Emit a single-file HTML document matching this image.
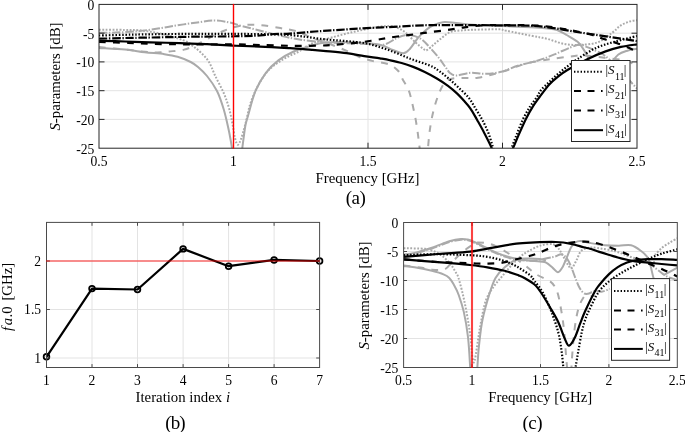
<!DOCTYPE html>
<html><head><meta charset="utf-8"><style>
html,body{margin:0;padding:0;background:#fff;overflow:hidden;}
svg{display:block;will-change:transform;}
text{font-family:"Liberation Serif",serif;fill:#000;}
</style></head><body>
<svg width="685" height="432" viewBox="0 0 685 432">
<rect width="685" height="432" fill="#fff"/>
<clipPath id="ca"><rect x="99.0" y="4.4" width="538.0" height="143.8"/></clipPath><line x1="233.5" y1="4.4" x2="233.5" y2="148.2" stroke="#e3e3e3" stroke-width="1"/><line x1="368.0" y1="4.4" x2="368.0" y2="148.2" stroke="#e3e3e3" stroke-width="1"/><line x1="502.5" y1="4.4" x2="502.5" y2="148.2" stroke="#e3e3e3" stroke-width="1"/><line x1="99.0" y1="33.2" x2="637.0" y2="33.2" stroke="#e3e3e3" stroke-width="1"/><line x1="99.0" y1="61.9" x2="637.0" y2="61.9" stroke="#e3e3e3" stroke-width="1"/><line x1="99.0" y1="90.7" x2="637.0" y2="90.7" stroke="#e3e3e3" stroke-width="1"/><line x1="99.0" y1="119.4" x2="637.0" y2="119.4" stroke="#e3e3e3" stroke-width="1"/><g clip-path="url(#ca)"><path d="M99.0 32.8 C101.8 32.8 109.5 32.8 116.0 32.5 C122.5 32.2 131.1 31.9 138.1 31.2 C145.1 30.5 151.3 29.5 157.9 28.5 C164.5 27.5 171.0 26.3 177.6 25.3 C184.2 24.3 191.2 23.2 197.3 22.4 C203.4 21.6 208.7 20.5 214.0 20.5 C219.3 20.5 224.5 21.4 229.2 22.4 C233.9 23.3 237.0 24.8 242.4 26.2 C247.8 27.6 255.1 29.4 261.4 31.0 C267.7 32.6 274.1 34.3 280.4 35.7 C286.7 37.1 292.0 38.4 299.4 39.5 C306.8 40.6 316.9 41.8 325.0 42.4 C333.1 43.0 340.8 42.9 348.0 43.2 C355.2 43.5 362.1 43.8 368.0 44.0 C373.9 44.2 378.9 45.7 383.7 44.7 C388.5 43.7 393.2 39.7 396.8 38.1 C400.4 36.5 402.4 35.6 405.0 35.2 C407.6 34.8 409.8 34.8 412.6 35.5 C415.4 36.2 419.0 37.5 421.8 39.5 C424.6 41.5 426.8 44.2 429.6 47.3 C432.4 50.4 436.2 54.6 438.8 57.9 C441.4 61.2 443.5 64.5 445.4 67.0 C447.3 69.5 448.2 71.6 450.0 73.0 C451.8 74.4 452.9 75.5 456.3 75.5 C459.8 75.5 465.9 73.1 470.7 72.8 C475.5 72.5 479.9 74.0 485.0 73.8 C490.1 73.6 495.9 73.1 501.3 71.8 C506.8 70.5 511.6 67.6 517.7 65.7 C523.8 63.8 532.0 62.4 538.1 60.5 C544.2 58.6 549.0 56.6 554.4 54.4 C559.8 52.2 566.5 48.9 570.8 47.3 C575.1 45.6 577.4 44.6 580.0 44.5 C582.6 44.4 583.9 45.9 586.5 46.9 C589.1 47.9 592.7 49.4 595.5 50.7 C598.3 52.0 601.0 53.2 603.1 54.5 C605.2 55.8 606.7 57.1 608.2 58.4 C609.7 59.6 610.0 60.1 612.0 62.0 C614.0 63.9 617.2 67.0 620.0 70.0 C622.8 73.0 626.2 76.9 629.0 80.0 C631.8 83.1 635.7 87.1 637.0 88.5" fill="none" stroke="#aaaaaa" stroke-width="2.00" stroke-dasharray="8.4 1.6 1.4 1.8" stroke-linecap="butt" stroke-linejoin="round"/><path d="M99.0 47.0 C103.3 47.4 117.3 48.8 125.0 49.6 C132.7 50.4 139.6 51.3 145.0 51.8 C150.4 52.3 153.3 52.4 157.3 52.4 C161.3 52.4 164.5 52.0 169.0 51.5 C173.5 51.0 179.6 50.7 184.1 49.6 C188.6 48.5 192.6 46.5 196.0 45.0 C199.4 43.5 199.9 42.8 204.5 40.5 C209.1 38.2 217.2 33.5 223.5 31.0 C229.8 28.5 236.1 26.2 242.4 25.3 C248.7 24.4 255.1 24.8 261.4 25.3 C267.7 25.8 274.7 27.2 280.4 28.1 C286.1 29.1 289.8 29.2 295.6 31.0 C301.4 32.8 309.0 36.7 315.0 39.0 C321.0 41.3 326.1 42.7 331.7 44.8 C337.2 46.9 343.6 49.4 348.3 51.5 C353.0 53.6 355.9 55.6 360.0 57.2 C364.1 58.8 368.3 59.9 373.1 61.1 C377.9 62.3 384.7 62.8 388.9 64.4 C393.1 66.1 395.9 68.4 398.3 71.0 C400.7 73.6 401.3 77.0 403.0 80.0 C404.7 83.0 406.9 85.8 408.3 89.3 C409.8 92.8 410.6 96.5 411.7 101.0 C412.8 105.5 414.0 111.0 415.0 116.0 C416.0 121.0 416.8 126.3 417.5 131.0 C418.2 135.7 418.6 139.8 419.2 144.3 C419.8 148.8 420.2 154.4 421.0 158.0 C421.8 161.6 423.0 166.0 424.0 166.0 C425.0 166.0 426.3 161.0 427.0 158.0 C427.7 155.0 427.6 152.5 428.0 148.0 C428.4 143.5 428.9 136.9 429.7 131.0 C430.5 125.1 431.6 118.5 433.0 112.7 C434.4 106.9 436.1 101.0 438.0 96.0 C439.9 91.0 442.2 85.6 444.7 82.7 C447.2 79.8 449.6 79.3 453.0 78.5 C456.4 77.7 460.8 78.1 465.0 78.0 C469.2 77.9 471.9 78.7 478.0 77.7 C484.1 76.7 493.3 74.3 501.3 72.0 C509.3 69.7 519.0 65.5 525.8 63.6 C532.6 61.7 537.4 61.4 542.2 60.5 C547.0 59.6 549.6 59.2 554.4 58.5 C559.2 57.8 566.5 57.0 570.8 56.5 C575.1 56.0 576.0 55.4 580.0 55.4 C584.0 55.4 590.0 56.0 595.0 56.5 C600.0 57.0 605.2 57.9 610.0 58.5 C614.8 59.1 620.5 59.3 624.0 60.0 C627.5 60.7 628.8 61.1 631.0 62.5 C633.2 63.9 636.0 67.5 637.0 68.5" fill="none" stroke="#aaaaaa" stroke-width="2.00" stroke-dasharray="6.8 7.2" stroke-linecap="butt" stroke-linejoin="round"/><path d="M99.0 47.9 C103.3 48.2 117.4 48.9 125.0 49.6 C132.6 50.3 138.1 51.4 144.7 52.2 C151.3 53.0 158.9 53.4 164.4 54.2 C169.9 55.0 173.2 55.5 177.6 56.8 C182.0 58.1 187.3 60.3 190.7 62.0 C194.1 63.7 195.3 64.7 198.0 67.0 C200.7 69.3 203.8 72.0 207.0 76.0 C210.2 80.0 214.2 85.5 217.0 91.0 C219.8 96.5 221.8 103.0 223.7 109.3 C225.6 115.6 227.3 123.5 228.5 129.0 C229.7 134.4 230.3 138.2 231.0 142.0 C231.7 145.8 232.0 148.7 232.5 152.0 C233.0 155.3 232.8 160.3 234.0 162.0 C235.2 163.7 238.8 163.7 240.0 162.0 C241.2 160.3 241.1 154.3 241.5 152.0 C241.9 149.7 241.7 152.4 242.3 148.1 C242.9 143.8 244.4 131.3 245.3 126.0 C246.2 120.7 246.2 122.1 247.9 116.3 C249.6 110.5 252.5 98.1 255.5 90.9 C258.5 83.7 261.9 78.2 265.7 73.1 C269.5 68.0 273.7 64.0 278.4 60.4 C283.1 56.8 288.6 53.8 293.7 51.5 C298.8 49.2 303.8 47.9 309.0 46.4 C314.2 44.9 317.2 43.2 325.0 42.5 C332.8 41.8 346.6 42.0 355.7 42.4 C364.8 42.8 373.5 43.4 379.7 44.7 C385.9 46.0 388.9 48.6 392.9 50.0 C396.8 51.4 400.5 53.5 403.4 53.3 C406.2 53.1 407.6 51.2 410.0 48.7 C412.4 46.2 415.2 41.2 417.8 38.1 C420.4 35.0 423.1 32.5 425.7 30.3 C428.3 28.1 430.7 26.6 433.6 25.2 C436.5 23.8 439.3 22.6 443.0 22.2 C446.7 21.8 451.0 22.6 456.0 23.0 C461.0 23.4 465.3 24.3 473.0 24.8 C480.7 25.3 492.3 25.6 502.0 26.0 C511.7 26.4 523.3 26.9 531.0 27.3 C538.7 27.7 543.7 28.1 548.0 28.5 C552.3 28.9 553.9 28.9 557.0 30.0 C560.1 31.1 563.3 33.0 566.7 35.0 C570.1 37.0 574.9 39.6 577.6 41.8 C580.3 44.0 581.2 46.1 582.7 48.2 C584.2 50.3 585.4 52.6 586.5 54.5 C587.6 56.4 588.2 57.7 589.1 59.6 C590.0 61.5 591.5 64.9 592.0 66.0" fill="none" stroke="#aaaaaa" stroke-width="2.00"  stroke-linecap="butt" stroke-linejoin="round"/><path d="M612.0 62.0 C613.1 60.8 615.9 56.4 618.4 54.5 C620.9 52.6 624.2 51.7 627.3 50.7 C630.4 49.8 635.4 49.1 637.0 48.8" fill="none" stroke="#aaaaaa" stroke-width="2.00"  stroke-linecap="butt" stroke-linejoin="round"/><path d="M99.0 29.8 C103.3 29.8 118.5 29.8 125.0 29.9 C131.5 30.0 133.7 29.9 138.0 30.2 C142.3 30.5 146.6 31.1 151.0 31.8 C155.4 32.5 160.0 33.4 164.4 34.5 C168.8 35.6 173.9 37.2 177.6 38.4 C181.3 39.6 184.2 40.4 186.8 41.7 C189.4 43.0 190.9 44.4 193.3 46.3 C195.7 48.2 198.6 50.3 201.2 52.9 C203.8 55.5 206.7 58.1 209.0 62.0 C211.3 65.8 212.9 70.8 215.3 76.0 C217.8 81.2 221.4 87.7 223.7 93.0 C226.0 98.3 227.5 102.8 229.0 108.0 C230.5 113.2 231.5 119.0 232.5 124.0 C233.5 129.0 234.1 134.5 235.0 138.0 C235.9 141.5 236.7 144.6 237.7 144.8 C238.7 145.0 239.7 142.5 241.0 139.0 C242.3 135.5 243.8 129.9 245.4 124.0 C247.0 118.1 248.3 110.0 250.4 103.6 C252.5 97.2 255.0 91.3 258.0 85.8 C261.0 80.3 264.1 75.0 268.3 70.5 C272.6 66.0 278.4 62.3 283.5 59.1 C288.6 55.9 294.1 54.1 298.8 51.5 C303.6 48.9 306.2 45.9 312.0 43.5 C317.8 41.1 326.5 38.9 333.8 36.9 C341.1 34.9 348.4 33.0 355.7 31.4 C363.0 29.8 371.8 27.9 377.6 27.0 C383.4 26.1 387.3 25.8 390.7 26.0 C394.1 26.2 395.4 26.9 398.0 28.0 C400.6 29.1 403.1 30.5 406.0 32.9 C408.9 35.2 412.3 39.5 415.2 42.1 C418.1 44.7 421.1 47.4 423.1 48.7 C425.1 50.0 425.2 50.7 427.0 50.0 C428.8 49.3 431.2 46.7 433.6 44.7 C436.0 42.7 438.8 40.2 441.5 38.1 C444.2 36.0 446.9 33.5 450.0 32.2 C453.1 30.9 456.2 30.9 460.0 30.5 C463.8 30.1 466.7 30.0 473.0 29.8 C479.3 29.6 492.4 29.2 498.0 29.3 C503.6 29.4 500.8 29.6 506.3 30.7 C511.8 31.8 524.1 34.3 531.0 35.7 C537.9 37.1 542.2 37.6 547.7 39.0 C553.2 40.4 558.8 43.0 564.3 44.0 C569.8 45.0 575.4 45.1 581.0 44.8 C586.6 44.5 592.5 44.3 597.7 42.3 C602.9 40.3 608.1 35.7 612.0 32.9 C615.9 30.1 617.9 27.2 620.9 25.3 C623.9 23.4 627.1 22.4 629.8 21.5 C632.5 20.6 635.8 20.4 637.0 20.2" fill="none" stroke="#aaaaaa" stroke-width="2.00" stroke-dasharray="1.8 1.6" stroke-linecap="butt" stroke-linejoin="round"/><path d="M99.0 42.0 C103.8 42.1 119.5 42.5 128.0 42.8 C136.5 43.1 141.3 43.5 150.0 43.8 C158.7 44.0 170.5 44.2 180.0 44.3 C189.5 44.4 197.5 44.5 207.0 44.5 C216.5 44.5 228.2 44.3 237.0 44.4 C245.8 44.5 251.2 44.8 260.0 45.0 C268.8 45.2 280.0 45.7 290.0 45.8 C300.0 45.9 312.7 45.8 320.0 45.6 C327.3 45.4 327.3 45.3 334.0 44.8 C340.7 44.3 353.2 43.2 360.0 42.4 C366.8 41.6 370.6 40.8 375.0 40.1 C379.4 39.4 382.2 38.8 386.3 38.1 C390.4 37.5 394.6 36.9 399.4 36.2 C404.2 35.6 410.2 34.9 415.2 34.2 C420.2 33.5 424.6 32.9 429.6 32.2 C434.6 31.6 440.9 30.9 445.4 30.3 C449.8 29.7 453.1 29.2 456.3 28.7 C459.5 28.2 460.5 27.8 464.7 27.3 C468.9 26.8 475.1 25.9 481.3 25.5 C487.5 25.1 493.7 25.2 502.0 25.2 C510.3 25.2 523.3 25.1 531.0 25.3 C538.7 25.5 542.5 25.9 548.0 26.5 C553.5 27.1 559.5 28.2 564.0 29.0 C568.5 29.8 570.4 30.0 575.0 31.0 C579.6 32.0 586.7 33.4 591.6 34.8 C596.5 36.2 599.9 37.8 604.4 39.3 C608.9 40.8 614.2 42.2 618.4 43.7 C622.6 45.2 626.7 46.9 629.8 48.2 C632.9 49.5 635.8 51.0 637.0 51.5" fill="none" stroke="#000" stroke-width="2.20" stroke-dasharray="6.8 7.2" stroke-linecap="butt" stroke-linejoin="round"/><path d="M99.0 38.7 C103.3 38.6 118.2 38.2 125.0 38.0 C131.8 37.8 132.5 37.9 140.0 37.7 C147.5 37.6 160.0 37.3 170.0 37.1 C180.0 36.9 189.5 36.7 200.0 36.6 C210.5 36.5 223.0 36.5 233.0 36.3 C243.0 36.1 253.2 35.9 260.0 35.5 C266.8 35.1 269.0 34.3 274.0 34.0 C279.0 33.7 283.2 34.0 290.0 33.6 C296.8 33.2 306.7 32.1 315.0 31.5 C323.3 30.9 331.4 30.4 340.0 29.8 C348.6 29.2 356.6 28.7 366.6 28.1 C376.6 27.6 390.6 27.0 400.0 26.5 C409.4 26.0 414.7 25.5 423.0 25.3 C431.3 25.1 440.5 25.1 450.0 25.1 C459.5 25.1 471.3 25.1 480.0 25.2 C488.7 25.2 493.5 25.3 502.0 25.4 C510.5 25.5 523.3 25.4 531.0 25.7 C538.7 26.0 542.5 26.6 548.0 27.3 C553.5 28.0 558.7 28.9 564.0 29.8 C569.3 30.7 574.8 31.7 580.0 32.5 C585.2 33.3 588.7 33.8 595.5 34.8 C602.3 35.8 614.0 37.5 620.9 38.6 C627.8 39.7 634.3 40.7 637.0 41.1" fill="none" stroke="#000" stroke-width="2.20" stroke-dasharray="8.4 1.6 1.4 1.8" stroke-linecap="butt" stroke-linejoin="round"/><path d="M99.0 40.8 C103.3 40.9 116.5 41.2 125.0 41.5 C133.5 41.8 140.8 42.0 150.0 42.3 C159.2 42.6 170.5 42.8 180.0 43.1 C189.5 43.4 198.2 43.8 207.0 44.2 C215.8 44.6 224.2 45.2 233.0 45.6 C241.8 46.0 250.5 46.2 260.0 46.6 C269.5 47.0 281.4 47.7 290.0 48.2 C298.6 48.7 306.3 49.4 311.9 49.8 C317.5 50.2 317.6 50.2 323.4 50.8 C329.2 51.4 339.9 52.3 346.7 53.2 C353.5 54.1 358.6 55.2 364.2 56.1 C369.8 57.0 375.7 57.7 380.0 58.4 C384.3 59.1 386.4 59.4 390.0 60.2 C393.6 61.0 397.7 61.9 401.6 63.0 C405.5 64.1 409.3 65.4 413.2 66.9 C417.1 68.4 420.9 70.1 424.8 72.0 C428.7 73.9 432.5 76.0 436.4 78.3 C440.3 80.6 444.5 83.4 448.0 85.9 C451.5 88.5 454.6 91.2 457.2 93.6 C459.8 96.0 461.4 97.9 463.5 100.3 C465.6 102.7 467.9 104.9 470.1 108.1 C472.4 111.3 474.7 115.7 477.0 119.7 C479.3 123.8 481.7 128.0 484.0 132.4 C486.3 136.8 489.2 142.4 490.9 146.2 C492.6 150.0 492.3 150.7 494.0 155.0 C495.7 159.3 498.5 172.0 501.0 172.0 C503.5 172.0 506.9 159.1 509.0 155.0 C511.1 150.9 511.6 151.0 513.3 147.6 C514.9 144.2 516.8 139.1 518.9 134.4 C521.0 129.7 523.5 123.8 525.8 119.2 C528.1 114.6 530.5 110.4 532.8 106.7 C535.1 103.0 537.0 100.6 539.7 96.9 C542.5 93.2 546.2 88.0 549.3 84.6 C552.4 81.2 555.4 78.8 558.5 76.3 C561.6 73.8 562.9 72.7 567.8 69.8 C572.7 66.9 581.5 62.1 587.8 59.0 C594.1 55.9 600.1 53.4 605.6 51.4 C611.1 49.4 615.7 48.1 620.9 46.9 C626.1 45.7 634.3 44.8 637.0 44.4" fill="none" stroke="#000" stroke-width="2.20"  stroke-linecap="butt" stroke-linejoin="round"/><path d="M99.0 35.5 C103.3 35.4 116.5 35.0 125.0 34.8 C133.5 34.6 136.3 34.5 150.0 34.3 C163.7 34.1 190.3 33.8 207.0 33.8 C223.7 33.8 236.2 33.8 250.0 34.0 C263.8 34.2 277.9 34.2 290.0 35.1 C302.1 36.0 313.6 38.1 322.8 39.1 C332.0 40.1 337.7 40.3 345.0 41.0 C352.3 41.7 359.4 42.0 366.6 43.5 C373.9 45.0 381.2 47.5 388.5 50.0 C395.8 52.5 403.5 56.2 410.4 58.8 C417.3 61.4 425.2 63.5 430.0 65.6 C434.8 67.6 436.2 68.9 439.3 71.1 C442.4 73.2 445.4 75.9 448.5 78.5 C451.6 81.1 454.5 83.7 457.8 86.9 C461.1 90.1 465.5 93.8 468.5 97.5 C471.5 101.2 473.5 105.3 475.9 109.2 C478.3 113.1 480.7 116.8 482.8 120.8 C484.9 124.8 487.0 129.3 488.6 133.5 C490.2 137.7 491.4 142.4 492.6 146.2 C493.8 149.9 494.4 152.0 496.0 156.0 C497.6 160.0 500.0 170.0 502.0 170.0 C504.0 170.0 506.4 159.8 508.0 156.0 C509.6 152.2 510.4 150.6 511.9 147.0 C513.4 143.4 514.9 139.0 516.8 134.4 C518.6 129.8 520.8 123.8 523.0 119.2 C525.2 114.6 527.7 110.4 530.0 106.7 C532.3 103.0 535.2 99.7 537.0 96.9 C538.8 94.2 538.9 92.7 540.9 90.2 C542.9 87.7 546.4 84.7 549.3 81.9 C552.2 79.1 555.4 76.1 558.5 73.5 C561.6 70.9 564.6 68.5 567.8 66.1 C571.0 63.7 573.0 62.0 577.6 59.0 C582.2 56.0 589.4 51.1 595.5 48.2 C601.6 45.3 607.6 43.8 614.5 41.8 C621.4 39.8 633.2 37.0 637.0 36.0" fill="none" stroke="#000" stroke-width="2.20" stroke-dasharray="1.5 1.8" stroke-linecap="butt" stroke-linejoin="round"/></g><g stroke="#262626" stroke-width="1"><line x1="233.5" y1="148.2" x2="233.5" y2="142.7"/><line x1="233.5" y1="4.4" x2="233.5" y2="9.9"/><line x1="368.0" y1="148.2" x2="368.0" y2="142.7"/><line x1="368.0" y1="4.4" x2="368.0" y2="9.9"/><line x1="502.5" y1="148.2" x2="502.5" y2="142.7"/><line x1="502.5" y1="4.4" x2="502.5" y2="9.9"/><line x1="99.0" y1="33.2" x2="104.5" y2="33.2"/><line x1="637.0" y1="33.2" x2="631.5" y2="33.2"/><line x1="99.0" y1="61.9" x2="104.5" y2="61.9"/><line x1="637.0" y1="61.9" x2="631.5" y2="61.9"/><line x1="99.0" y1="90.7" x2="104.5" y2="90.7"/><line x1="637.0" y1="90.7" x2="631.5" y2="90.7"/><line x1="99.0" y1="119.4" x2="104.5" y2="119.4"/><line x1="637.0" y1="119.4" x2="631.5" y2="119.4"/><rect x="99.0" y="4.4" width="538.0" height="143.8" fill="none"/></g><line x1="233.5" y1="3.9" x2="233.5" y2="148.7" stroke="#ff0000" stroke-width="1.4"/><g font-size="13.6"><text x="99.0" y="165.6" text-anchor="middle">0.5</text><text x="233.5" y="165.6" text-anchor="middle">1</text><text x="368.0" y="165.6" text-anchor="middle">1.5</text><text x="502.5" y="165.6" text-anchor="middle">2</text><text x="637.0" y="165.6" text-anchor="middle">2.5</text><text x="94.4" y="9.8" text-anchor="end">0</text><text x="94.4" y="38.6" text-anchor="end">-5</text><text x="94.4" y="67.3" text-anchor="end">-10</text><text x="94.4" y="96.1" text-anchor="end">-15</text><text x="94.4" y="124.8" text-anchor="end">-20</text><text x="94.4" y="153.6" text-anchor="end">-25</text></g><rect x="571.5" y="60.5" width="58.5" height="81.0" fill="#fff" stroke="#262626" stroke-width="1"/><line x1="574.0" y1="71.7" x2="603.0" y2="71.7" stroke="#000" stroke-width="2" stroke-dasharray="1.4 1.9"/><text x="605.5" y="74.0" font-size="13">|<tspan font-style="italic">S</tspan><tspan font-size="10" dy="5.6" dx="0.3">11</tspan><tspan dy="-5.6" dx="-0.7">|</tspan></text><line x1="574.0" y1="91.0" x2="603.0" y2="91.0" stroke="#000" stroke-width="2" stroke-dasharray="7 6.5 7 6.5 1.6 10"/><text x="605.5" y="93.3" font-size="13">|<tspan font-style="italic">S</tspan><tspan font-size="10" dy="5.6" dx="0.3">21</tspan><tspan dy="-5.6" dx="-0.7">|</tspan></text><line x1="574.0" y1="110.4" x2="603.0" y2="110.4" stroke="#000" stroke-width="2" stroke-dasharray="7 6.5 7 6.5 1.6 10"/><text x="605.5" y="112.7" font-size="13">|<tspan font-style="italic">S</tspan><tspan font-size="10" dy="5.6" dx="0.3">31</tspan><tspan dy="-5.6" dx="-0.7">|</tspan></text><line x1="574.0" y1="130.2" x2="603.0" y2="130.2" stroke="#000" stroke-width="2"/><text x="605.5" y="132.5" font-size="13">|<tspan font-style="italic">S</tspan><tspan font-size="10" dy="5.6" dx="0.3">41</tspan><tspan dy="-5.6" dx="-0.7">|</tspan></text>
<line x1="92.0" y1="222.4" x2="92.0" y2="367.5" stroke="#e3e3e3" stroke-width="1"/><line x1="137.5" y1="222.4" x2="137.5" y2="367.5" stroke="#e3e3e3" stroke-width="1"/><line x1="183.1" y1="222.4" x2="183.1" y2="367.5" stroke="#e3e3e3" stroke-width="1"/><line x1="228.6" y1="222.4" x2="228.6" y2="367.5" stroke="#e3e3e3" stroke-width="1"/><line x1="274.1" y1="222.4" x2="274.1" y2="367.5" stroke="#e3e3e3" stroke-width="1"/><line x1="46.5" y1="358.0" x2="319.6" y2="358.0" stroke="#e3e3e3" stroke-width="1"/><line x1="46.5" y1="309.5" x2="319.6" y2="309.5" stroke="#e3e3e3" stroke-width="1"/><line x1="46.5" y1="261.0" x2="319.6" y2="261.0" stroke="#e3e3e3" stroke-width="1"/><polyline points="46.5,356.8 92.0,288.6 137.5,289.5 183.1,248.9 228.6,266.2 274.1,259.9 319.6,261.0" fill="none" stroke="#000" stroke-width="2.2" stroke-linejoin="round"/><circle cx="46.5" cy="356.8" r="2.85" fill="none" stroke="#000" stroke-width="1.75"/><circle cx="92.0" cy="288.6" r="2.85" fill="none" stroke="#000" stroke-width="1.75"/><circle cx="137.5" cy="289.5" r="2.85" fill="none" stroke="#000" stroke-width="1.75"/><circle cx="183.1" cy="248.9" r="2.85" fill="none" stroke="#000" stroke-width="1.75"/><circle cx="228.6" cy="266.2" r="2.85" fill="none" stroke="#000" stroke-width="1.75"/><circle cx="274.1" cy="259.9" r="2.85" fill="none" stroke="#000" stroke-width="1.75"/><circle cx="319.6" cy="261.0" r="2.85" fill="none" stroke="#000" stroke-width="1.75"/><g stroke="#4a4a4a" stroke-width="1"><line x1="92.0" y1="367.5" x2="92.0" y2="364.1"/><line x1="92.0" y1="222.4" x2="92.0" y2="225.8"/><line x1="137.5" y1="367.5" x2="137.5" y2="364.1"/><line x1="137.5" y1="222.4" x2="137.5" y2="225.8"/><line x1="183.1" y1="367.5" x2="183.1" y2="364.1"/><line x1="183.1" y1="222.4" x2="183.1" y2="225.8"/><line x1="228.6" y1="367.5" x2="228.6" y2="364.1"/><line x1="228.6" y1="222.4" x2="228.6" y2="225.8"/><line x1="274.1" y1="367.5" x2="274.1" y2="364.1"/><line x1="274.1" y1="222.4" x2="274.1" y2="225.8"/><line x1="46.5" y1="358.0" x2="49.9" y2="358.0"/><line x1="319.6" y1="358.0" x2="316.2" y2="358.0"/><line x1="46.5" y1="309.5" x2="49.9" y2="309.5"/><line x1="319.6" y1="309.5" x2="316.2" y2="309.5"/><line x1="46.5" y1="261.0" x2="49.9" y2="261.0"/><line x1="319.6" y1="261.0" x2="316.2" y2="261.0"/><rect x="46.5" y="222.4" width="273.1" height="145.1" fill="none"/></g><line x1="46.0" y1="261.0" x2="320.1" y2="261.0" stroke="#ff0000" stroke-opacity="0.42" stroke-width="2"/><g font-size="13.6"><text x="46.5" y="384.7" text-anchor="middle">1</text><text x="92.0" y="384.7" text-anchor="middle">2</text><text x="137.5" y="384.7" text-anchor="middle">3</text><text x="183.1" y="384.7" text-anchor="middle">4</text><text x="228.6" y="384.7" text-anchor="middle">5</text><text x="274.1" y="384.7" text-anchor="middle">6</text><text x="319.6" y="384.7" text-anchor="middle">7</text><text x="41.1" y="362.8" text-anchor="end">1</text><text x="41.1" y="314.3" text-anchor="end">1.5</text><text x="41.1" y="265.8" text-anchor="end">2</text></g>
<clipPath id="cc"><rect x="403.6" y="222.5" width="273.7" height="145.0"/></clipPath><line x1="472.0" y1="222.5" x2="472.0" y2="367.5" stroke="#e3e3e3" stroke-width="1"/><line x1="540.5" y1="222.5" x2="540.5" y2="367.5" stroke="#e3e3e3" stroke-width="1"/><line x1="608.9" y1="222.5" x2="608.9" y2="367.5" stroke="#e3e3e3" stroke-width="1"/><line x1="403.6" y1="251.5" x2="677.3" y2="251.5" stroke="#e3e3e3" stroke-width="1"/><line x1="403.6" y1="280.5" x2="677.3" y2="280.5" stroke="#e3e3e3" stroke-width="1"/><line x1="403.6" y1="309.5" x2="677.3" y2="309.5" stroke="#e3e3e3" stroke-width="1"/><line x1="403.6" y1="338.5" x2="677.3" y2="338.5" stroke="#e3e3e3" stroke-width="1"/><g clip-path="url(#cc)"><path d="M403.6 255.4 C405.4 255.1 409.9 254.8 414.6 253.7 C419.3 252.5 426.1 250.4 431.9 248.5 C437.7 246.6 444.5 243.5 449.3 242.0 C454.1 240.5 457.8 240.0 460.9 239.7 C464.0 239.4 465.8 239.8 467.8 240.2 C469.8 240.6 470.7 241.0 473.0 242.0 C475.3 243.0 478.2 244.5 481.6 246.2 C485.0 247.8 489.2 250.2 493.1 251.9 C497.0 253.6 500.8 255.3 504.7 256.6 C508.6 257.9 512.4 258.8 516.3 259.5 C520.2 260.2 524.8 260.4 527.9 260.6 C531.0 260.8 531.6 260.9 535.0 260.5 C538.4 260.1 544.5 258.7 548.0 258.0 C551.5 257.3 553.6 256.9 555.8 256.3 C558.0 255.7 559.5 253.9 561.4 254.2 C563.2 254.5 565.3 256.2 566.9 258.3 C568.5 260.4 569.7 263.4 571.1 266.7 C572.5 269.9 573.9 274.3 575.3 277.8 C576.7 281.3 578.0 285.0 579.4 287.5 C580.8 290.0 582.2 291.9 583.6 293.0 C585.0 294.1 585.9 294.1 587.8 293.8 C589.6 293.5 592.4 291.4 594.7 291.0 C597.0 290.6 599.2 292.1 601.7 291.7 C604.2 291.3 608.6 289.4 610.0 288.9" fill="none" stroke="#aaaaaa" stroke-width="2.00" stroke-dasharray="8.4 1.6 1.4 1.8" stroke-linecap="butt" stroke-linejoin="round"/><path d="M647.8 262.0 C648.9 262.9 652.4 265.7 654.7 267.5 C657.0 269.3 659.5 271.4 661.7 273.0 C663.9 274.6 665.4 275.8 668.0 277.0 C670.6 278.2 675.8 279.5 677.3 280.0" fill="none" stroke="#aaaaaa" stroke-width="2.00" stroke-dasharray="8.4 1.6 1.4 1.8" stroke-linecap="butt" stroke-linejoin="round"/><path d="M403.6 265.5 C406.3 265.8 415.3 266.8 420.0 267.5 C424.7 268.2 428.7 269.3 432.0 269.7 C435.3 270.1 437.7 270.2 440.0 270.0 C442.3 269.8 444.1 269.7 446.0 268.5 C447.9 267.3 449.5 264.8 451.6 262.7 C453.7 260.6 456.0 258.1 458.5 255.8 C461.0 253.5 464.2 250.7 466.6 248.8 C469.0 246.9 471.3 245.6 473.0 244.5 C474.7 243.4 474.0 242.6 477.0 242.5 C480.0 242.4 486.2 242.8 490.8 244.2 C495.4 245.6 500.7 248.8 504.7 251.1 C508.7 253.4 511.4 255.5 515.0 258.0 C518.5 260.5 522.5 263.3 526.0 266.0 C529.5 268.7 532.2 271.8 536.2 274.3 C540.2 276.8 546.6 279.0 549.7 281.1 C552.8 283.2 553.6 284.7 555.0 287.0 C556.4 289.3 557.1 290.9 558.2 295.0 C559.3 299.1 560.5 306.1 561.5 311.9 C562.5 317.7 563.1 321.6 564.0 330.0 C564.9 338.4 565.8 353.3 566.6 362.5 C567.4 371.7 568.3 381.2 569.0 385.0 C569.7 388.8 570.5 388.8 571.0 385.0 C571.5 381.2 571.1 371.7 571.7 362.5 C572.3 353.3 573.4 339.0 574.5 330.0 C575.6 321.0 576.9 313.9 578.4 308.5 C579.9 303.1 582.2 299.5 583.5 297.5 C584.8 295.5 584.5 296.8 586.4 296.5 C588.3 296.2 593.6 296.1 595.0 296.0" fill="none" stroke="#aaaaaa" stroke-width="2.00" stroke-dasharray="6.8 7.2" stroke-linecap="butt" stroke-linejoin="round"/><path d="M403.6 254.6 C405.4 254.3 409.9 254.1 414.6 252.9 C419.3 251.8 426.1 249.6 431.9 247.7 C437.7 245.8 444.5 242.8 449.3 241.3 C454.1 239.9 457.8 239.3 460.9 239.0 C464.0 238.7 465.8 239.2 467.8 239.6 C469.8 240.0 470.7 240.3 473.0 241.3 C475.3 242.3 478.2 243.8 481.6 245.4 C485.0 247.0 489.2 249.4 493.1 251.1 C497.0 252.8 500.8 254.5 504.7 255.8 C508.6 257.1 512.4 257.9 516.3 258.7 C520.2 259.5 523.9 259.9 527.9 260.4 C531.9 260.9 537.0 261.2 540.0 261.6 C543.0 262.0 543.9 261.5 546.1 262.6 C548.3 263.7 551.0 266.5 553.0 268.1 C555.0 269.7 556.3 272.5 557.9 272.3 C559.5 272.1 561.3 269.2 562.8 266.7 C564.3 264.1 565.6 260.2 567.0 257.0 C568.4 253.8 569.7 249.7 571.1 247.3 C572.5 244.9 573.7 243.5 575.3 242.4 C576.9 241.3 578.2 240.9 580.8 241.0 C583.3 241.1 586.6 242.4 590.6 243.1 C594.6 243.8 600.3 244.8 605.0 245.2 C609.7 245.6 614.4 245.7 618.8 245.7 C623.1 245.7 627.4 244.5 631.1 245.3 C634.8 246.2 638.0 248.7 640.8 250.8 C643.6 252.9 646.2 255.2 647.8 257.8 C649.4 260.4 649.7 262.9 650.6 266.1 C651.5 269.3 652.4 274.2 653.3 277.2 C654.2 280.2 655.5 282.9 656.0 284.0" fill="none" stroke="#aaaaaa" stroke-width="2.00"  stroke-linecap="butt" stroke-linejoin="round"/><path d="M403.6 266.2 C405.4 266.4 409.9 266.5 414.6 267.3 C419.3 268.1 427.1 269.6 431.9 270.8 C436.7 272.0 440.6 273.1 443.5 274.3 C446.4 275.5 447.6 276.2 449.3 278.0 C451.1 279.8 452.4 282.2 454.0 285.0 C455.6 287.8 457.1 290.5 458.7 295.0 C460.3 299.5 462.2 304.9 463.8 311.9 C465.4 318.9 466.9 327.8 468.0 337.2 C469.1 346.6 469.7 360.0 470.2 368.0 C470.7 376.0 470.0 382.2 471.0 385.0 C472.0 387.8 474.9 387.8 476.0 385.0 C477.1 382.2 476.8 374.6 477.3 368.0 C477.8 361.4 478.1 353.6 479.0 345.6 C479.9 337.7 480.7 328.7 482.4 320.3 C484.1 311.9 486.9 302.1 489.1 295.0 C491.3 287.9 492.9 282.6 495.5 278.0 C498.1 273.4 501.2 270.3 504.7 267.3 C508.2 264.3 512.4 261.3 516.3 259.8 C520.2 258.3 523.9 258.6 527.9 258.5 C531.9 258.4 537.0 258.7 540.0 259.0 C543.0 259.3 545.0 260.2 546.0 260.5" fill="none" stroke="#aaaaaa" stroke-width="2.00"  stroke-linecap="butt" stroke-linejoin="round"/><path d="M664.0 275.0 C665.0 274.4 667.8 272.9 670.0 271.7 C672.2 270.4 676.1 268.2 677.3 267.5" fill="none" stroke="#aaaaaa" stroke-width="2.00"  stroke-linecap="butt" stroke-linejoin="round"/><path d="M403.6 248.2 C407.2 248.3 420.3 248.4 425.0 248.8 C429.7 249.2 429.8 249.9 431.9 250.6 C434.0 251.3 435.8 251.9 437.7 252.9 C439.6 253.9 441.6 255.3 443.5 256.9 C445.4 258.5 447.8 261.0 449.3 262.7 C450.9 264.4 451.7 265.6 452.8 267.3 C453.9 269.0 455.2 271.3 456.2 273.1 C457.1 274.9 457.4 274.4 458.5 278.0 C459.6 281.6 461.7 289.3 463.0 295.0 C464.3 300.7 465.2 305.0 466.5 312.0 C467.8 319.0 469.6 329.9 470.5 337.2 C471.4 344.5 471.6 351.8 472.2 356.0 C472.8 360.2 473.3 362.5 473.9 362.5 C474.5 362.5 474.9 359.8 475.6 356.0 C476.3 352.2 477.1 345.7 478.0 340.0 C478.9 334.3 479.7 328.7 481.0 322.0 C482.3 315.3 483.8 306.0 486.0 300.0 C488.2 294.0 491.3 290.2 494.0 286.2 C496.7 282.2 499.6 279.4 502.4 276.0 C505.2 272.6 508.1 269.0 510.9 265.9 C513.7 262.8 516.5 259.9 519.3 257.5 C522.1 255.1 524.3 253.5 527.8 251.5 C531.3 249.5 536.2 246.8 540.4 245.6 C544.6 244.4 550.0 243.7 553.0 244.2 C556.0 244.7 557.0 246.8 558.6 248.7 C560.2 250.6 561.2 252.8 562.8 255.6 C564.4 258.4 566.8 263.2 568.3 265.3 C569.8 267.4 570.4 269.0 571.8 268.1 C573.2 267.2 575.2 262.6 576.7 259.8 C578.2 257.0 578.9 253.4 580.8 251.4 C582.6 249.4 585.0 248.6 587.8 248.0 C590.6 247.4 592.9 247.4 597.5 248.0 C602.1 248.6 610.3 250.0 615.6 251.4 C620.9 252.8 624.0 254.7 629.4 256.5 C634.8 258.3 643.5 261.1 647.8 262.0 C652.1 262.9 653.8 262.0 655.0 262.0" fill="none" stroke="#aaaaaa" stroke-width="2.00" stroke-dasharray="1.8 1.6" stroke-linecap="butt" stroke-linejoin="round"/><path d="M655.0 255.0 C656.1 253.8 659.2 250.1 661.7 248.0 C664.2 245.9 667.4 244.1 670.0 242.5 C672.6 240.9 676.1 239.0 677.3 238.3" fill="none" stroke="#aaaaaa" stroke-width="2.00" stroke-dasharray="1.8 1.6" stroke-linecap="butt" stroke-linejoin="round"/><path d="M403.6 259.4 C409.3 259.8 428.5 261.4 437.7 262.0 C446.9 262.6 452.6 262.6 459.0 262.9 C465.4 263.1 471.3 263.4 476.0 263.5 C480.7 263.6 483.0 263.7 487.4 263.6 C491.8 263.5 497.8 263.4 502.4 262.7 C507.0 262.0 510.4 260.6 515.0 259.5 C519.6 258.4 525.9 257.0 530.2 255.8 C534.5 254.6 536.3 253.8 540.6 252.1 C544.9 250.4 550.7 247.5 555.8 245.9 C560.9 244.3 566.2 243.2 571.1 242.5 C576.0 241.8 580.5 241.4 585.0 241.6 C589.5 241.8 592.4 242.0 598.0 243.5 C603.6 245.0 612.8 248.5 618.8 250.8 C624.8 253.1 629.1 255.0 633.9 257.1 C638.7 259.2 643.2 261.3 647.8 263.3 C652.4 265.3 656.8 266.7 661.7 268.9 C666.6 271.1 674.7 275.2 677.3 276.5" fill="none" stroke="#000" stroke-width="2.20" stroke-dasharray="6.8 7.2" stroke-linecap="butt" stroke-linejoin="round"/><path d="M403.6 256.9 C409.3 256.4 426.6 254.9 437.7 254.0 C448.8 253.1 460.8 252.8 470.0 251.7 C479.2 250.6 485.4 249.0 493.1 247.7 C500.8 246.3 509.3 244.5 516.3 243.6 C523.3 242.7 528.4 242.7 535.0 242.4 C541.6 242.1 549.8 241.8 555.8 242.0 C561.8 242.2 566.5 242.9 571.1 243.8 C575.7 244.7 580.5 246.5 583.6 247.3 C586.8 248.1 587.4 247.9 590.0 248.7 C592.6 249.5 596.2 250.9 599.3 251.9 C602.4 252.9 605.4 253.8 608.5 254.7 C611.6 255.6 614.7 256.6 617.8 257.5 C620.9 258.4 624.3 259.2 627.0 259.8 C629.7 260.4 630.4 260.6 633.9 261.1 C637.4 261.6 643.2 262.1 647.8 262.6 C652.4 263.1 656.8 263.5 661.7 264.0 C666.6 264.5 674.7 265.2 677.3 265.4" fill="none" stroke="#000" stroke-width="2.20"  stroke-linecap="butt" stroke-linejoin="round"/><path d="M403.6 259.4 C409.3 259.8 426.6 261.2 437.7 262.1 C448.8 263.0 461.7 264.1 470.0 265.0 C478.3 265.9 481.6 266.3 487.4 267.3 C493.2 268.3 499.5 269.5 504.7 270.8 C509.9 272.1 515.3 274.2 518.6 275.4 C521.9 276.6 521.8 276.5 524.4 278.0 C527.0 279.5 531.7 282.0 534.5 284.5 C537.3 287.0 538.8 289.3 541.3 293.0 C543.8 296.7 546.9 302.0 549.7 306.8 C552.5 311.6 555.7 316.6 558.2 322.0 C560.7 327.4 563.1 335.0 564.9 338.9 C566.7 342.8 567.4 345.9 569.1 345.6 C570.8 345.3 573.2 340.9 575.0 337.2 C576.8 333.5 578.4 328.0 580.1 323.7 C581.8 319.4 582.6 316.8 585.0 311.5 C587.4 306.2 592.3 296.1 594.7 291.7 C597.1 287.3 597.0 287.9 599.3 285.0 C601.6 282.1 605.4 277.6 608.5 274.6 C611.6 271.6 614.7 269.2 617.8 267.2 C620.9 265.2 624.3 263.7 627.0 262.6 C629.7 261.5 630.4 261.2 633.9 260.6 C637.4 260.0 643.2 259.4 647.8 259.2 C652.4 259.0 656.8 259.1 661.7 259.2 C666.6 259.3 674.7 259.8 677.3 259.9" fill="none" stroke="#000" stroke-width="2.20"  stroke-linecap="butt" stroke-linejoin="round"/><path d="M403.6 255.2 C409.3 255.0 426.6 254.2 437.7 254.2 C448.8 254.2 461.7 254.8 470.0 255.2 C478.3 255.6 482.0 256.0 487.4 256.9 C492.8 257.8 498.0 259.0 502.4 260.4 C506.8 261.8 510.7 263.4 514.0 265.0 C517.3 266.6 519.3 268.0 522.0 269.7 C524.7 271.4 528.1 273.5 530.2 275.4 C532.3 277.3 532.4 278.1 534.5 281.0 C536.6 283.9 540.2 287.8 543.0 292.9 C545.8 298.0 548.9 305.4 551.4 311.9 C553.9 318.4 556.5 325.6 558.2 332.1 C559.9 338.6 560.7 345.1 561.5 350.7 C562.3 356.3 562.8 362.3 563.2 365.9 C563.6 369.4 563.0 370.0 564.0 372.0 C565.0 374.0 567.7 378.0 569.5 378.0 C571.3 378.0 574.0 374.0 575.0 372.0 C576.0 370.0 575.2 369.4 575.8 365.9 C576.4 362.3 577.4 356.3 578.4 350.7 C579.4 345.1 580.7 337.2 581.8 332.1 C582.9 327.0 583.8 324.0 585.0 320.3 C586.2 316.6 586.9 314.8 589.2 310.0 C591.5 305.2 595.4 296.6 598.9 291.7 C602.4 286.8 606.1 283.9 610.0 280.6 C613.9 277.4 618.5 274.6 622.5 272.2 C626.5 269.8 629.7 268.3 633.9 266.1 C638.1 263.9 643.2 261.3 647.8 259.2 C652.4 257.1 656.8 255.2 661.7 253.6 C666.6 252.0 674.7 250.1 677.3 249.4" fill="none" stroke="#000" stroke-width="2.20" stroke-dasharray="1.5 1.8" stroke-linecap="butt" stroke-linejoin="round"/></g><g stroke="#4a4a4a" stroke-width="1"><line x1="472.0" y1="367.5" x2="472.0" y2="364.1"/><line x1="472.0" y1="222.5" x2="472.0" y2="225.9"/><line x1="540.5" y1="367.5" x2="540.5" y2="364.1"/><line x1="540.5" y1="222.5" x2="540.5" y2="225.9"/><line x1="608.9" y1="367.5" x2="608.9" y2="364.1"/><line x1="608.9" y1="222.5" x2="608.9" y2="225.9"/><line x1="403.6" y1="251.5" x2="407.0" y2="251.5"/><line x1="677.3" y1="251.5" x2="673.9" y2="251.5"/><line x1="403.6" y1="280.5" x2="407.0" y2="280.5"/><line x1="677.3" y1="280.5" x2="673.9" y2="280.5"/><line x1="403.6" y1="309.5" x2="407.0" y2="309.5"/><line x1="677.3" y1="309.5" x2="673.9" y2="309.5"/><line x1="403.6" y1="338.5" x2="407.0" y2="338.5"/><line x1="677.3" y1="338.5" x2="673.9" y2="338.5"/><rect x="403.6" y="222.5" width="273.7" height="145.0" fill="none"/></g><line x1="472.0" y1="222.0" x2="472.0" y2="368.0" stroke="#ff0000" stroke-opacity="0.72" stroke-width="2.1"/><g font-size="13.6"><text x="403.6" y="384.9" text-anchor="middle">0.5</text><text x="472.0" y="384.9" text-anchor="middle">1</text><text x="540.5" y="384.9" text-anchor="middle">1.5</text><text x="608.9" y="384.9" text-anchor="middle">2</text><text x="677.3" y="384.9" text-anchor="middle">2.5</text><text x="398.4" y="227.5" text-anchor="end">0</text><text x="398.4" y="256.5" text-anchor="end">-5</text><text x="398.4" y="285.5" text-anchor="end">-10</text><text x="398.4" y="314.5" text-anchor="end">-15</text><text x="398.4" y="343.5" text-anchor="end">-20</text><text x="398.4" y="372.5" text-anchor="end">-25</text></g><rect x="611.5" y="278.6" width="58.1" height="81.7" fill="#fff" stroke="#262626" stroke-width="1"/><line x1="614.0" y1="290.9" x2="642.8" y2="290.9" stroke="#000" stroke-width="2" stroke-dasharray="1.4 1.9"/><text x="645.1" y="293.2" font-size="13">|<tspan font-style="italic">S</tspan><tspan font-size="10" dy="4.5" dx="0.3">11</tspan><tspan dy="-4.5" dx="-0.4">|</tspan></text><line x1="614.0" y1="310.4" x2="642.8" y2="310.4" stroke="#000" stroke-width="2" stroke-dasharray="7 6.5 7 6.5 1.6 10"/><text x="645.1" y="312.7" font-size="13">|<tspan font-style="italic">S</tspan><tspan font-size="10" dy="4.5" dx="0.3">21</tspan><tspan dy="-4.5" dx="-0.4">|</tspan></text><line x1="614.0" y1="329.6" x2="642.8" y2="329.6" stroke="#000" stroke-width="2" stroke-dasharray="7 6.5 7 6.5 1.6 10"/><text x="645.1" y="331.9" font-size="13">|<tspan font-style="italic">S</tspan><tspan font-size="10" dy="4.5" dx="0.3">31</tspan><tspan dy="-4.5" dx="-0.4">|</tspan></text><line x1="614.0" y1="348.9" x2="642.8" y2="348.9" stroke="#000" stroke-width="2"/><text x="645.1" y="351.2" font-size="13">|<tspan font-style="italic">S</tspan><tspan font-size="10" dy="4.5" dx="0.3">41</tspan><tspan dy="-4.5" dx="-0.4">|</tspan></text>
<text x="367.5" y="183.1" font-size="14.8" text-anchor="middle">Frequency [GHz]</text><text x="540.2" y="402.2" font-size="14.8" text-anchor="middle">Frequency [GHz]</text><text x="182.8" y="401.8" font-size="14.8" text-anchor="middle">Iteration index <tspan font-style="italic">i</tspan></text><text transform="translate(60.4,76.5) rotate(-90)" font-size="14.8" text-anchor="middle"><tspan font-style="italic">S</tspan>-parameters [dB]</text><text transform="translate(368.6,295.5) rotate(-90)" font-size="14.8" text-anchor="middle"><tspan font-style="italic">S</tspan>-parameters [dB]</text><text transform="translate(12.2,296.9) rotate(-90)" font-size="14.8" text-anchor="middle"><tspan font-style="italic">f</tspan><tspan font-style="italic" dx="1.5">a</tspan><tspan dx="0.5">.0</tspan><tspan dx="2"> [GHz]</tspan></text><text x="355.8" y="204" font-size="19" text-anchor="middle" textLength="20.2" lengthAdjust="spacing">(a)</text><text x="175.4" y="429" font-size="19" text-anchor="middle" textLength="20.2" lengthAdjust="spacing">(b)</text><text x="532.5" y="429" font-size="19" text-anchor="middle" textLength="20.2" lengthAdjust="spacing">(c)</text>
</svg>
</body></html>
